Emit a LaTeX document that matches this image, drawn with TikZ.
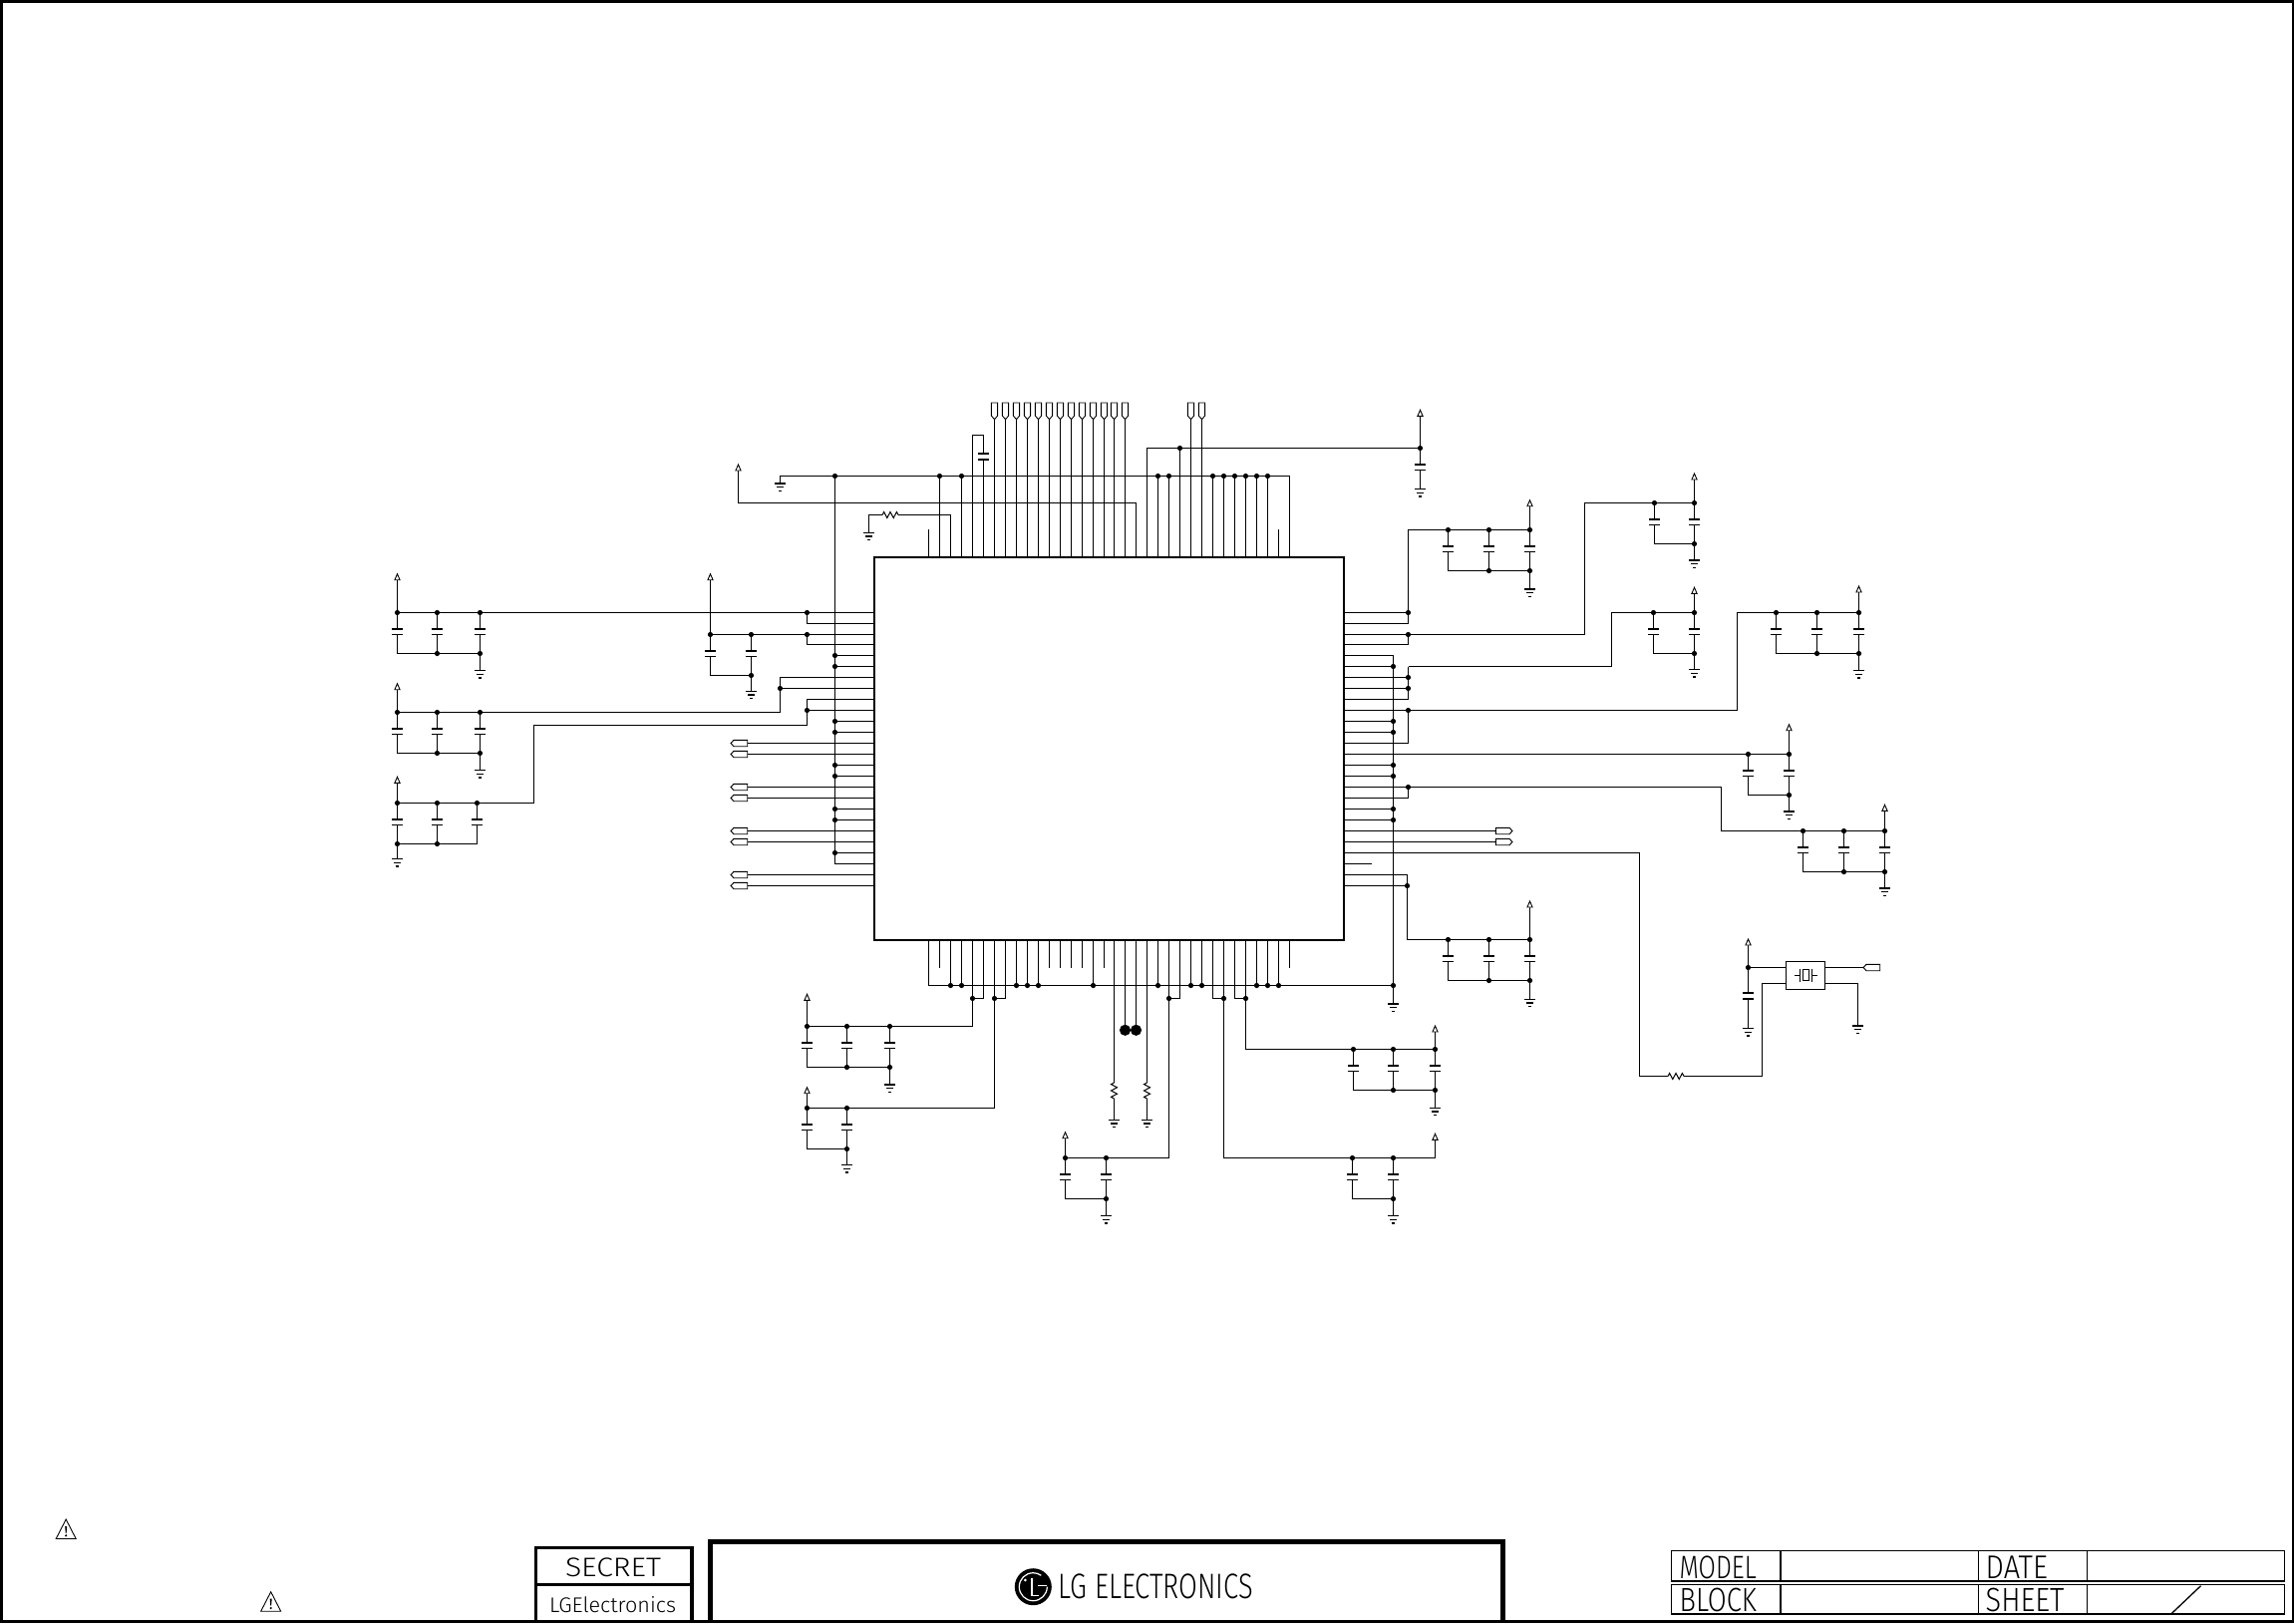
\documentclass[tikz,border=0pt]{standalone}
\usepackage{fontspec}
\usepackage{graphicx}
\usetikzlibrary{calc}
\setmainfont{Liberation Sans}
\newfontfamily\stickfont{Fira Sans Light}
\tikzset{
 wire/.style={draw=black,line width=1.1pt,line join=miter},
 plate/.style={draw=black,line width=1.7pt},
 gndline/.style={draw=black,line width=1.2pt},
 fineline/.style={draw=black,line width=1pt},
 termline/.style={draw=black,line width=0.9pt,fill=white},
 titletext/.style={inner sep=0pt,outer sep=0pt,text=black},
 frameline/.style={draw=black,line width=2.6pt},
 thinbox/.style={draw=black,line width=1.1pt},
 icbody/.style={draw=black,line width=2.6pt,fill=white,inner sep=0pt,outer sep=0pt,minimum width=471pt,minimum height=384pt,anchor=north west}
}
\newcommand{\jn}[1]{\fill[black] (#1) circle (2.6pt);}
\newcommand{\capv}[3]{%
 \draw[wire] (#1,#2) -- (#1,#2+16.5) (#1,#2+22) -- (#1,#3);
 \draw[plate] (#1-5.5,#2+16.5) -- ++(11,0) (#1-5.5,#2+22) -- ++(11,0);}
\newcommand{\gndsym}[2]{%
 \draw[gndline] (#1-5.5,#2) -- ++(11,0) (#1-3.3,#2+3.6) -- ++(6.6,0) (#1-1.5,#2+7.2) -- ++(3,0);}
\newcommand{\pwr}[3]{% x, wire start y, tip y
 \draw[wire] (#1,#2) -- (#1,#3+6);
 \draw[termline] (#1,#3) -- (#1+2.6,#3+6) -- (#1-2.6,#3+6) -- cycle;}
\newcommand{\bank}[9]{% xs, first, last, T, bottom junctions, gnd x, gnd y, pwr x, tip
 \draw[wire] (#2,#4) -- (#3,#4) (#2,#4+41) -- (#3,#4+41);
 \foreach \cx in {#1}{\capv{\cx}{#4}{#4+41}\fill[black] (\cx,#4) circle (2.6pt);}
 \foreach \cx in {#5}{\fill[black] (\cx,#4+41) circle (2.6pt);}
 \draw[wire] (#6,#4+41) -- (#6,#7);
 \gndsym{#6}{#7}
 \pwr{#8}{#4}{#9}}
\newcommand{\termH}[2]{\draw[termline] (#1) ++(0,-3.2) -- ++(#2*13.7,0) -- ++(#2*3,3.2) -- ++(-3*#2,3.2) -- ++(-13.7*#2,0) -- cycle;}
\newcommand{\termV}[1]{\draw[termline] (#1) -- ++(-3.1,-3.7) -- ++(0,-13) -- ++(6.2,0) -- ++(0,13) -- cycle;}
\newcommand{\resH}[2]{(#1) -- ++(1.6,-3) -- ++(3.2,6) -- ++(3.2,-6) -- ++(3.2,6) -- ++(3.2,-6) -- ++(1.6,3) -- ++(#2-16,0)}
\newcommand{\resV}[2]{(#1) -- ++(-3,1.6) -- ++(6,3.2) -- ++(-6,3.2) -- ++(6,3.2) -- ++(-6,3.2) -- ++(3,1.6) -- ++(0,#2-16)}
\newcommand{\warn}[2]{%
 \draw[black,line width=0.9pt,line join=miter] (#1,#2) -- (#1+10,#2+19.5) -- (#1-10,#2+19.5) -- cycle;
 \fill[black] (#1-1,#2+7) -- (#1+1,#2+7) -- (#1+.4,#2+14) -- (#1-.4,#2+14) -- cycle;
 \fill[black] (#1,#2+16.3) circle (1.2pt);}
\newcommand{\fit}[3]{\resizebox{#1pt}{#2pt}{#3}}
\begin{document}
\begin{tikzpicture}[x=1pt,y=-1pt]
\useasboundingbox (0,0) rectangle (2301,1628);
% pin coordinates
\foreach \i in {0,...,33}{
 \pgfmathsetmacro\px{floor(931.5+10.97*\i)+0.5}
 \coordinate (T\i) at (\px,559);
 \coordinate (B\i) at (\px,943);}
\foreach \j in {0,...,25}{
 \pgfmathsetmacro\ry{ifthenelse(\j>2,613.5,614.5)+11*\j}
 \coordinate (L\j) at (877,\ry);
 \coordinate (R\j) at (1348,\ry);}
\coordinate (toprail) at (0,477.5);
\coordinate (botrail) at (0,988.5);
\coordinate (jog) at (0,1001.5);
\coordinate (lbus) at (837.5,0);
\coordinate (rbus) at (1397.5,0);
\coordinate (rjog) at (1412.5,0);
\coordinate (rjogb) at (1411.5,0);
\coordinate (ljogA) at (809.5,0);
\coordinate (ljogB) at (782.5,0);
\coordinate (tl) at (749.7,0);
\coordinate (tr) at (1500.3,0);
\coordinate (tv) at (0,420.7);
% ---- top side
\draw[wire] (782.5,485) -- (782.5,477.5) -- (T33|-toprail) -- (T33);
\gndsym{782.5}{485}
\foreach \i in {1,3,21,22,26,27,28,29,30,31}{
 \draw[wire] (T\i) -- (T\i|-toprail);
 \jn{T\i|-toprail}}
\foreach \i in {0,32}{\draw[wire] (T\i) -- (T\i|-0,531);}
\foreach \i in {6,...,18,24,25}{
 \draw[wire] (T\i) -- (T\i|-tv);
 \termV{T\i|-tv}}
\draw[wire] (T4) -- (T4|-0,436.5) -- (T5|-0,436.5) -- (T5|-0,455.3);
\draw[wire] (T5) -- (T5|-0,460.7);
\draw[plate] ($(T5|-0,455.3)+(-5.5,0)$) -- ++(11,0) ($(T5|-0,460.7)+(-5.5,0)$) -- ++(11,0);
\draw[wire] (T2) -- (T2|-0,516.5) -- (901,516.5);
\draw[fineline] \resH{885,516.5}{16};
\draw[wire] (885,516.5) -- (871.5,516.5) -- (871.5,534.3);
\gndsym{871.5}{534.3}
\draw[wire] (T19) -- (T19|-0,504.5) -- (740.5,504.5);
\pwr{740.5}{504.5}{466}
\draw[wire] (T20) -- (T20|-0,449.5) -- (1424.5,449.5);
\draw[wire] (T23) -- (T23|-0,449.5);
\jn{T23|-0,449.5}
\capv{1424.5}{449.5}{490.7}
\jn{1424.5,449.5}
\gndsym{1424.5}{490.7}
\pwr{1424.5}{449.5}{411.3}
% ---- left side
\draw[wire] (lbus|-toprail) -- (lbus|-L23) -- (L23);
\jn{lbus|-toprail}
\foreach \j in {4,5,10,11,14,15,18,19,22}{
 \draw[wire] (L\j) -- (lbus|-L\j);
 \jn{lbus|-L\j}}
\foreach \j in {12,13,16,17,20,21,24,25}{
 \draw[wire] (L\j) -- (tl|-L\j);
 \termH{tl|-L\j}{-1}}
\draw[wire] (L0) -- (481.5,614.5);
\draw[wire] (L1) -- (ljogA|-L1) -- (ljogA|-L0);
\jn{ljogA|-L0}
\draw[wire] (L2) -- (753.5,636.5);
\draw[wire] (L3) -- (ljogA|-L3) -- (ljogA|-L2);
\jn{ljogA|-L2}
\draw[wire] (L6) -- (ljogB|-L6) -- (ljogB|-0,714.5) -- (481.5,714.5);
\draw[wire] (L7) -- (ljogB|-L7);
\jn{ljogB|-L7}
\draw[wire] (L8) -- (ljogA|-L8) -- (ljogA|-0,727.5) -- (535.5,727.5) -- (535.5,805.5) -- (478.5,805.5);
\draw[wire] (L9) -- (ljogA|-L9);
\jn{ljogA|-L9}
\bank{398.5,438.5,481.5}{398.5}{481.5}{614.5}{438.5,481.5}{481.5}{672.7}{398.5}{575.7}
\bank{398.5,438.5,481.5}{398.5}{481.5}{714.5}{438.5,481.5}{481.5}{772.7}{398.5}{685.7}
\bank{398.5,438.5,478.5}{398.5}{478.5}{805.5}{398.5,438.5}{398.5}{861.7}{398.5}{779.3}
\bank{712.5,753.5}{712.5}{753.5}{636.5}{753.5}{753.5}{693.3}{712.5}{575.7}
% ---- right side
\draw[wire] (R0) -- (rjog|-R0);
\draw[wire] (R1) -- (rjog|-R1) -- (rjog|-0,531.5) -- (1452.5,531.5);
\jn{rjog|-R0}
\draw[wire] (R2) -- (1589.5,636.5) -- (1589.5,504.5) -- (1659.5,504.5);
\draw[wire] (R3) -- (rjog|-R3) -- (rjog|-R2);
\jn{rjog|-R2}
\draw[wire] (R4) -- (rbus|-R4) -- (rbus|-0,1007);
\foreach \j in {5,10,11,14,15,18,19}{
 \draw[wire] (R\j) -- (rbus|-R\j);
 \jn{rbus|-R\j}}
\jn{rbus|-botrail}
\gndsym{1397.5}{1007}
\draw[wire] (rjog|-R5) -- (1616.5,668.5) -- (1616.5,614.5) -- (1658.5,614.5);
\draw[wire] (R8) -- (rjog|-R8) -- (rjog|-R5);
\draw[wire] (R6) -- (rjog|-R6);
\draw[wire] (R7) -- (rjog|-R7);
\jn{rjog|-R6}\jn{rjog|-R7}
\draw[wire] (R9) -- (1742.5,712.5) -- (1742.5,614.5) -- (1781.5,614.5);
\draw[wire] (R12) -- (rjog|-R12) -- (rjog|-R9);
\jn{rjog|-R9}
\draw[wire] (R13) -- (1753.5,756.5);
\draw[wire] (R16) -- (1726.5,789.5) -- (1726.5,833.5) -- (1808.5,833.5);
\draw[wire] (R17) -- (rjog|-R17) -- (rjog|-R16);
\jn{rjog|-R16}
\foreach \j in {20,21}{
 \draw[wire] (R\j) -- (tr|-R\j);
 \termH{tr|-R\j}{1}}
\draw[wire] (R23) -- (R23-|1375.7,0);
\draw[wire] (R24) -- (rjogb|-R24) -- (rjogb|-0,942.5) -- (1452.5,942.5);
\draw[wire] (R25) -- (rjogb|-R25);
\jn{rjogb|-R25}
\draw[wire] (R22) -- (R22-|1644.5,0) -- (1644.5,1079.5) -- (1673,1079.5);
\draw[fineline] \resH{1673,1079.5}{16};
\draw[wire] (1689,1079.5) -- (1767.5,1079.5) -- (1767.5,986.5) -- (1791.4,986.5);
\bank{1452.5,1493.5,1534.5}{1452.5}{1534.5}{531.5}{1493.5,1534.5}{1534.5}{591}{1534.5}{501.7}
\bank{1659.5,1699.5}{1659.5}{1699.5}{504.5}{1699.5}{1699.5}{562}{1699.5}{475}
\bank{1658.5,1699.5}{1658.5}{1699.5}{614.5}{1699.5}{1699.5}{671.7}{1699.5}{589.3}
\bank{1781.5,1822.5,1864.5}{1781.5}{1864.5}{614.5}{1822.5,1864.5}{1864.5}{672.7}{1864.5}{588}
\bank{1753.5,1794.5}{1753.5}{1794.5}{756.5}{1794.5}{1794.5}{814}{1794.5}{726.7}
\bank{1808.5,1849.5,1890.5}{1808.5}{1890.5}{833.5}{1849.5,1890.5}{1890.5}{891}{1890.5}{807.3}
\bank{1452.5,1493.5,1534.5}{1452.5}{1534.5}{942.5}{1493.5,1534.5}{1534.5}{1002.3}{1534.5}{904}
% crystal
\capv{1753.5}{979.8}{1031.7}
\draw[wire] (1753.5,970.5) -- (1753.5,979.8);
\jn{1753.5,970.5}
\gndsym{1753.5}{1031.7}
\pwr{1753.5}{970.5}{942}
\node[thinbox,minimum width=39.3pt,minimum height=28pt,inner sep=0pt,outer sep=0pt,anchor=north west] (xtal) at (1791.4,964.3) {};
\draw[wire] (1753.5,970.5) -- (1791.4,970.5);
\draw[wire] (1830.7,970.5) -- (1869,970.5);
\termH{1885.7,970.5}{-1}
\draw[wire] (1830.7,986.5) -- (1863.5,986.5) -- (1863.5,1029);
\gndsym{1863.5}{1029}
\draw[fineline] (1800,978.5) -- (1805.4,978.5) (1805.4,971.7) -- (1805.4,984.5)
 (1817,971.7) -- (1817,984.5) (1817,978.5) -- (1822.9,978.5)
 (1808.5,972) rectangle (1814.5,983.5);
% ---- bottom side
\draw[wire] (B0) -- (B0|-botrail) -- (rbus|-botrail);
\foreach \i in {2,3,8,9,10,15,21,24,25,30,31,32}{
 \draw[wire] (B\i) -- (B\i|-botrail);
 \jn{B\i|-botrail}}
\foreach \i in {1,11,12,13,14,16,33}{\draw[wire] (B\i) -- (B\i|-0,970.7);}
\draw[wire] (B5) -- (B5|-jog) -- (B4|-jog);
\draw[wire] (B4) -- (B4|-0,1029.5) -- (892.5,1029.5);
\jn{B4|-jog}
\draw[wire] (B7) -- (B7|-jog) -- (B6|-jog);
\draw[wire] (B6) -- (B6|-0,1111.5) -- (849.5,1111.5);
\jn{B6|-jog}
\foreach \i in {17,20}{
 \draw[wire] (B\i) -- (B\i|-0,1086);
 \draw[fineline] \resV{B\i|-0,1086}{16} ;
 \draw[wire] (B\i|-0,1102) -- (B\i|-0,1123.3);
 \draw[gndline] ($(B\i|-0,1123.3)+(-5.5,0)$) -- ++(11,0) ($(B\i|-0,1123.3)+(-3.3,3.6)$) -- ++(6.6,0) ($(B\i|-0,1123.3)+(-1.5,7.2)$) -- ++(3,0);}
\foreach \i in {18,19}{
 \draw[wire] (B\i) -- (B\i|-0,1033.3);
 \fill[black] (B\i|-0,1033.3) circle (5.6pt);}
\draw[wire] (B23) -- (B23|-jog) -- (B22|-jog);
\draw[wire] (B22) -- (B22|-0,1161.5) -- (1109.5,1161.5);
\jn{B22|-jog}
\draw[wire] (B26) -- (B26|-jog) -- (B27|-jog);
\draw[wire] (B27) -- (B27|-0,1161.5) -- (1439.5,1161.5);
\jn{B27|-jog}
\draw[wire] (B28) -- (B28|-jog) -- (B29|-jog);
\draw[wire] (B29) -- (B29|-0,1052.5) -- (1357.5,1052.5);
\jn{B29|-jog}
\bank{809.5,849.5,892.5}{809.5}{892.5}{1029.5}{849.5,892.5}{892.5}{1088}{809.5}{997.3}
\bank{809.5,849.5}{809.5}{849.5}{1111.5}{849.5}{849.5}{1168.7}{809.5}{1090.7}
\bank{1068.5,1109.5}{1068.5}{1109.5}{1161.5}{1109.5}{1109.5}{1219.7}{1068.5}{1135.7}
\bank{1356.5,1397.5}{1356.5}{1397.5}{1161.5}{1397.5}{1397.5}{1219.7}{1439.5}{1137.3}
\bank{1357.5,1397.5,1439.5}{1357.5}{1439.5}{1052.5}{1397.5,1439.5}{1439.5}{1111.3}{1439.5}{1029}
% ---- the chip
\node[icbody] (ic) at (877,559) {};
% ---- sheet frame and title block
\draw[frameline] (1.2,1.2) rectangle (2299.8,1626.6);
\warn{66.2}{1524}
\warn{271.7}{1596.7}
\draw[draw=black,line width=3.4pt] (537.6,1626) -- (537.6,1552.7) -- (693.9,1552.7) -- (693.9,1626);
\draw[draw=black,line width=3.4pt] (537.6,1589.3) -- (693.9,1589.3);
\node[titletext] (secret) at (615,1572.3) {\fit{96}{18.7}{\stickfont SECRET}};
\node[titletext] (lgel) at (614.5,1610) {\fit{127}{16}{\stickfont LGElectronics}};
\draw[draw=black,line width=5pt] (712.5,1626) -- (712.5,1546.5) -- (1507,1546.5) -- (1507,1626);
\fill[black] (1036.3,1591.7) circle (18.5pt);
\draw[white,line width=1.2pt] (1036.3,1591.7) ++(0:14) arc (0:305:14);
\draw[white,line width=1.2pt] (1035,1583) -- (1035,1600.5) -- (1041.5,1600.5);
\draw[white,line width=1.2pt] (1041,1590.5) -- (1050.3,1590.5);
\fill[white] (1028.3,1585) circle (1.5pt);
\node[titletext] (lgname) at (1159.5,1591.7) {\fit{195}{24.7}{\stickfont LG ELECTRONICS}};
\draw[thinbox,line width=1.3pt] (1676.3,1555.7) rectangle (2291.3,1586);
\draw[thinbox,line width=1.3pt] (1676.3,1589.3) rectangle (2291.3,1619);
\draw[thinbox,line width=1.3pt] (1785.9,1555.7) -- (1785.9,1586) (1785.9,1589.3) -- (1785.9,1619)
 (1984.2,1555.7) -- (1984.2,1586) (1984.2,1589.3) -- (1984.2,1619)
 (2093.8,1555.7) -- (2093.8,1586) (2093.8,1589.3) -- (2093.8,1619);
\draw[thinbox,line width=1.3pt] (2178.4,1618.3) -- (2207.5,1590.7);
\node[titletext] (tmodel) at (1723.2,1572) {\fit{77.2}{22.6}{\stickfont MODEL}};
\node[titletext] (tblock) at (1723.2,1605) {\fit{77.2}{23.4}{\stickfont BLOCK}};
\node[titletext] (tdate) at (2022.8,1572) {\fit{62.3}{22.6}{\stickfont DATE}};
\node[titletext] (tsheet) at (2031.1,1605) {\fit{78.8}{23.4}{\stickfont SHEET}};
\end{tikzpicture}
\end{document}
